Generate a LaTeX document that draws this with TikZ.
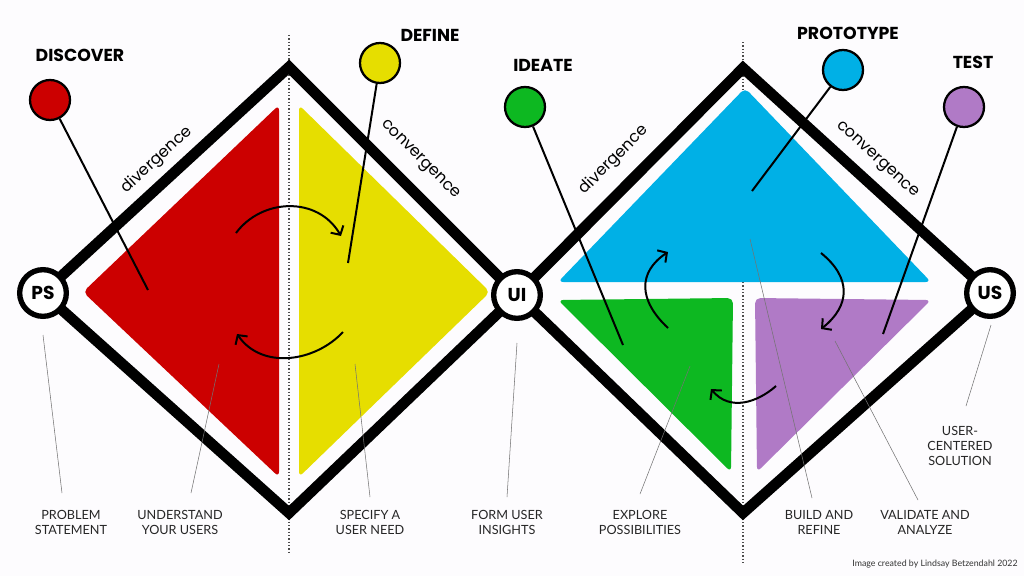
\documentclass[tikz,border=0pt]{standalone}
\usepackage{fontspec}
\setmainfont{Lato}
\newfontfamily\headfont{Poppins}
\usetikzlibrary{arrows.meta}
\definecolor{cred}{HTML}{CC0000}
\definecolor{cyellow}{HTML}{E6DE00}
\definecolor{cblue}{HTML}{00B0E6}
\definecolor{cgreen}{HTML}{0DB821}
\definecolor{cpurple}{HTML}{B07AC6}
\definecolor{bgc}{HTML}{FDFCFE}
\begin{document}
\begin{tikzpicture}[x=0.75pt,y=-0.75pt,
  edge/.style={line width=8pt, line join=miter},
  hub/.style={circle, draw, line width=4pt, fill=white, minimum size=35pt, inner sep=0pt, font=\headfont\bfseries\fontsize{14}{14}\selectfont},
  pin/.style={circle, draw, line width=1.7pt, minimum size=30pt, inner sep=0pt},
  pinline/.style={line width=1.5pt},
  head/.style={font=\headfont\bfseries\fontsize{13}{13}\selectfont},
  lab/.style={font=\fontsize{9.5}{11.3}\selectfont, align=center, text=black!85},
  leader/.style={draw=black!55, line width=0.4pt},
  rot/.style={font=\headfont\fontsize{12}{12}\selectfont},
  arr/.style={line width=1.5pt, -{Straight Barb[length=5pt,width=11pt]}},
  dots/.style={draw=black!70, line width=0.8pt, dash pattern=on 1pt off 1.5pt},
  area/.style={rounded corners=4pt}
]
\useasboundingbox[fill=bgc] (0,0) rectangle (1024,576);

% dotted centre lines
\coordinate (d1t) at (289,35); \coordinate (d1b) at (289,555);
\coordinate (d2t) at (743,42); \coordinate (d2b) at (743,563);
\draw[dots] (d1t) -- (d1b);
\draw[dots] (d2t) -- (d2b);

% coloured areas
\fill[cred, area] (83,292) -- (279,105) -- (279,477) -- cycle;
\fill[cyellow, area] (299,105) -- (490,292) -- (299,477) -- cycle;
\fill[cblue, area] (745,88) -- (931,282) -- (558,282) -- cycle;
\fill[cgreen, area] (558,300) -- (733,298) -- (731,472) -- cycle;
\fill[cpurple, area] (755,298) -- (931,300) -- (757,472) -- cycle;

% diamonds
\coordinate (psc) at (43,293);
\coordinate (t1) at (289,67);
\coordinate (uic) at (517,295);
\coordinate (b1) at (289,513);
\coordinate (t2) at (743,68);
\coordinate (usc) at (990,293);
\coordinate (b2) at (743,513);
\draw[edge] (psc) -- (t1) -- (uic) -- (b1) -- cycle;
\draw[edge] (uic) -- (t2) -- (usc) -- (b2) -- cycle;

% rotated labels
\node[rot, rotate=42.5] (div1) at (157,160) {divergence};
\node[rot, rotate=-45] (conv1) at (420,160) {convergence};
\node[rot, rotate=45] (div2) at (614,160) {divergence};
\node[rot, rotate=-42.5] (conv2) at (877,160) {convergence};

% bottom labels and leaders
\node[lab] (lps) at (71,522) {PROBLEM\\STATEMENT};
\node[lab] (lund) at (180,522) {UNDERSTAND\\YOUR USERS};
\node[lab] (lspec) at (370,522) {SPECIFY A\\USER NEED};
\node[lab] (lform) at (507,522) {FORM USER\\INSIGHTS};
\node[lab] (lexp) at (640,522) {EXPLORE\\POSSIBILITIES};
\node[lab] (lbuild) at (819,522) {BUILD AND\\REFINE};
\node[lab] (lval) at (925,522) {VALIDATE AND\\ANALYZE};
\node[lab] (luser) at (960,446) {USER-\\CENTERED\\SOLUTION};
\node[font=\fontsize{6.6}{7}\selectfont, text=black!80] (credit) at (935,564) {Image created by Lindsay Betzendahl 2022};

\coordinate (q1) at (43,335); \coordinate (q1e) at (62,493);
\coordinate (q2) at (219,364); \coordinate (q2e) at (191,493);
\coordinate (q3) at (355,364); \coordinate (q3e) at (370,497);
\coordinate (q4) at (517,343); \coordinate (q4e) at (507,497);
\coordinate (q5) at (690,366); \coordinate (q5e) at (640,494);
\coordinate (q6) at (750,239); \coordinate (q6e) at (812,498);
\coordinate (q7) at (835,341); \coordinate (q7e) at (918,500);
\coordinate (q8) at (991,325); \coordinate (q8e) at (966,406);
\foreach \a in {1,...,8} {\draw[leader] (q\a) -- (q\a e);}

% pins
\node[pin, fill=cred] (pdisc) at (50,100) {};
\node[pin, fill=cyellow] (pdef) at (380,63) {};
\node[pin, fill=cgreen] (pide) at (525,107) {};
\node[pin, fill=cblue] (pprot) at (843,70) {};
\node[pin, fill=cpurple] (ptest) at (964,107) {};
\coordinate (edisc) at (148,290);
\coordinate (edef) at (348,263);
\coordinate (eide) at (623,345);
\coordinate (eprot) at (752,191);
\coordinate (etest) at (883,334);
\draw[pinline] (pdisc) -- (edisc);
\draw[pinline] (pdef) -- (edef);
\draw[pinline] (pide) -- (eide);
\draw[pinline] (pprot) -- (eprot);
\draw[pinline] (ptest) -- (etest);

\node[head] (hdisc) at (80,55) {DISCOVER};
\node[head] (hdef) at (430,35) {DEFINE};
\node[head] (hide) at (543,65) {IDEATE};
\node[head] (hprot) at (848,33) {PROTOTYPE};
\node[head] (htest) at (973,62) {TEST};

% arrows
\coordinate (a1s) at (236,233); \coordinate (a1e) at (341,236);
\coordinate (a2s) at (343,332); \coordinate (a2e) at (237,334);
\coordinate (a3s) at (668,328); \coordinate (a3e) at (668,252);
\coordinate (a4s) at (821,253); \coordinate (a4e) at (821,329);
\coordinate (a5s) at (776,386); \coordinate (a5e) at (711,389);
\draw[arr] (a1s) .. controls (262,198) and (318,196) .. (a1e);
\draw[arr] (a2s) .. controls (315,362) and (262,370) .. (a2e);
\draw[arr] (a3s) .. controls (638,300) and (638,272) .. (a3e);
\draw[arr] (a4s) .. controls (852,278) and (850,306) .. (a4e);
\draw[arr] (a5s) .. controls (758,402) and (730,412) .. (a5e);

% hubs
\node[hub] (ps) at (psc) {PS};
\node[hub] (ui) at (uic) {UI};
\node[hub] (us) at (usc) {US};
\end{tikzpicture}
\end{document}
